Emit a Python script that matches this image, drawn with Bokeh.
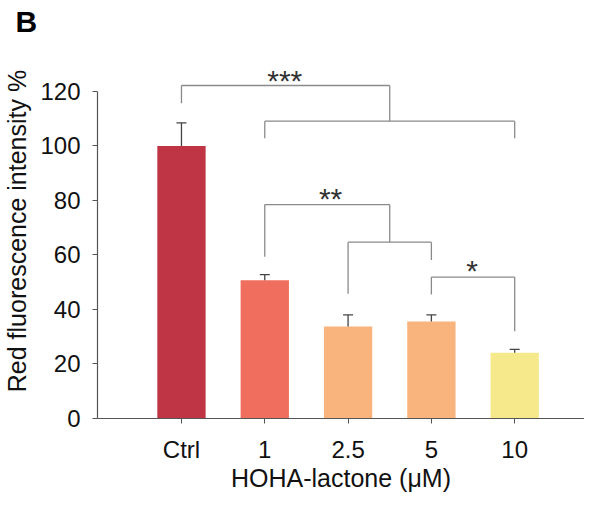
from bokeh.plotting import figure
from bokeh.models import (Range1d, FixedTicker, ColumnDataSource, LabelSet)
from bokeh.embed import file_html
from bokeh.resources import INLINE
from bokeh.core.properties import value

# ---- data ----
categories = ["Ctrl", "1", "2.5", "5", "10"]
means = [100.0, 50.7, 33.8, 35.6, 24.1]
errors = [8.5, 2.1, 4.2, 2.4, 1.3]
colors = ["#C03545", "#F06E5E", "#F8B47C", "#F8B47C", "#F6E98C"]
y_ticks = [0, 20, 40, 60, 80, 100, 120]

# significance brackets: (x_left, x_right, y_top, y_left_end, y_right_end)
br_xl = [0, 1, 1, 2, 3]
br_xr = [2.5, 4, 2.5, 3, 4]
br_yt = [122.2, 109.1, 78.5, 64.7, 51.9]
br_yl = [115.7, 102.8, 59.4, 45.8, 45.5]
br_yr = [109.1, 102.8, 64.7, 58.2, 32.0]
star_text = ["***", "**", "*"]
star_x = [1.24, 1.79, 3.49]
star_y = [120.3, 76.8, 50.3]

FONT = "Liberation Sans"
xs = list(range(len(categories)))

p = figure(width=584, height=494, output_backend="svg", toolbar_location=None,
           x_range=Range1d(-1.008, 4.838), y_range=Range1d(0, 137.61),
           min_border_left=97, min_border_right=0, min_border_top=43,
           min_border_bottom=76, title="B")
p.outline_line_color = None
p.xgrid.grid_line_color = None
p.ygrid.grid_line_color = None
p.background_fill_color = "white"
p.border_fill_color = "white"

p.title.text_font = FONT
p.title.text_font_size = "30px"
p.title.text_font_style = "bold"
p.title.text_color = "black"
p.title.align = "left"
p.title.offset = -82
p.title.standoff = 8
p.title.vertical_align = "top"

src = ColumnDataSource(dict(x=xs, top=means, color=colors,
                            err_top=[m + e for m, e in zip(means, errors)]))
p.vbar(x="x", top="top", width=0.58, fill_color="color", line_color=None, source=src)

# error bars (upper only)
cap = 0.06
p.segment(x0="x", y0="top", x1="x", y1="err_top", source=src,
          line_color="#444444", line_width=1.3)
p.segment(x0=[x - cap for x in xs], y0=src.data["err_top"],
          x1=[x + cap for x in xs], y1=src.data["err_top"],
          line_color="#444444", line_width=1.3)

# brackets
bx0, by0, bx1, by1 = [], [], [], []
for xl, xr, yt, yl, yr in zip(br_xl, br_xr, br_yt, br_yl, br_yr):
    bx0 += [xl, xl, xr]
    by0 += [yl, yt, yt]
    bx1 += [xl, xr, xr]
    by1 += [yt, yt, yr]
p.segment(x0=bx0, y0=by0, x1=bx1, y1=by1, line_color="#8a8a8a", line_width=1.3)

stars = ColumnDataSource(dict(x=star_x, y=star_y, t=star_text))
p.add_layout(LabelSet(x="x", y="y", text="t", source=stars, text_align="center",
                      text_baseline="alphabetic", text_font=value(FONT),
                      text_font_size="30px", text_color="#333333"))

# axes
for ax in (p.xaxis, p.yaxis):
    ax.axis_line_color = "#555555"
    ax.axis_line_width = 1.2
    ax.major_tick_line_color = "#555555"
    ax.major_tick_out = 5
    ax.major_tick_in = 0
    ax.minor_tick_line_color = None
    ax.major_label_text_font = FONT
    ax.major_label_text_font_size = "24px"
    ax.major_label_text_color = "#111111"
    ax.major_label_standoff = 12
    ax.axis_label_text_font = FONT
    ax.axis_label_text_font_size = "25px"
    ax.axis_label_text_font_style = "normal"
    ax.axis_label_text_color = "#111111"

p.xaxis.ticker = FixedTicker(ticks=xs)
p.xaxis.major_label_overrides = {i: c for i, c in enumerate(categories)}
p.xaxis.axis_label = "HOHA-lactone (\u03bcM)"
p.xaxis.axis_label_standoff = -2

p.yaxis.ticker = FixedTicker(ticks=y_ticks)
p.yaxis.bounds = (0, 120)
p.yaxis.axis_label = "Red fluorescence intensity %"
p.yaxis.axis_label_standoff = 6

open("out.html", "w").write(file_html(p, INLINE))
